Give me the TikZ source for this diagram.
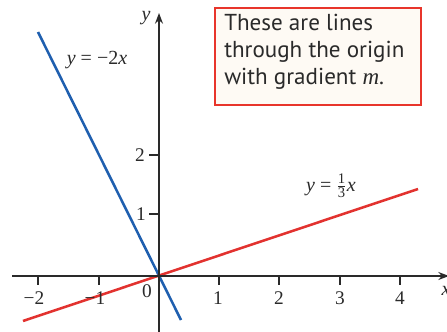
\documentclass[tikz,border=0pt]{standalone}
\usepackage{fontspec}
\setmainfont{Liberation Serif}
\newfontfamily\boxfont{PT Sans}
\usetikzlibrary{arrows.meta}
\definecolor{lineblue}{HTML}{1F5FAF}
\definecolor{linered}{HTML}{E2322F}
\definecolor{boxred}{HTML}{E8352B}
\definecolor{boxfill}{HTML}{FEFAF4}
\definecolor{axisgray}{HTML}{2A2A2A}
\tikzset{
  axis/.style={draw=axisgray, line width=1.1pt, -{Stealth[length=8pt,width=6pt]}},
  tick/.style={draw=axisgray, line width=0.9pt},
  ticklabel/.style={font=\fontsize{14.5}{16}\selectfont, text=axisgray, inner sep=0pt},
  eqlabel/.style={font=\fontsize{15}{17}\selectfont, text=axisgray, inner sep=0pt},
  graphline/.style={line width=1.9pt},
  notebox/.style={draw=boxred, fill=boxfill, line width=1.1pt, inner sep=0pt,
    minimum width=154.5pt, minimum height=73pt},
}
\newcommand{\smallfig}[1]{\mbox{\fontsize{11}{11}\selectfont #1}}
\begin{document}
\begin{tikzpicture}[x=0.75pt,y=-0.75pt]
\useasboundingbox (0,0) rectangle (447,332);
\clip (0,0) rectangle (447,332);
% origin at (159,276); unit 60.3 px horizontally, 61 px vertically
\coordinate (O) at (159,276);
\coordinate (xs) at (12,276);
\coordinate (xe) at (449,276);
\coordinate (ys) at (159,334);
\coordinate (ye) at (159,13);
% lines
\coordinate (b1) at (38,32);
\coordinate (b2) at (181,320);
\coordinate (r1) at (23,321);
\coordinate (r2) at (418,189);
\draw[graphline, lineblue] (b1) -- (b2);
\draw[graphline, linered] (r1) -- (r2);
% axes
\draw[axis] (xs) -- (xe);
\draw[axis] (ys) -- (ye);
% x ticks
\foreach \i/\px in {-2/38,-1/99,1/219,2/279,3/340,4/400}{
  \coordinate (xt\i) at (\px,276);
  \draw[tick] (xt\i) -- ++(0,9);
}
\node[ticklabel] (lm2) at (34,298) {−2};
\node[ticklabel] (lm1) at (95,298) {−1};
\node[ticklabel] (l1) at (218,298) {1};
\node[ticklabel] (l2) at (279,298) {2};
\node[ticklabel] (l3) at (340,298) {3};
\node[ticklabel] (l4) at (400,298) {4};
\node[ticklabel] (l0) at (147,291) {0};
% y ticks
\coordinate (yt1) at (159,214);
\coordinate (yt2) at (159,155);
\draw[tick] (yt1) -- ++(-10,0);
\draw[tick] (yt2) -- ++(-10,0);
\node[ticklabel] (ly1) at (141,214) {1};
\node[ticklabel] (ly2) at (140,155) {2};
% axis labels
\node[eqlabel] (ylab) at (146,18) {\itshape y};
\node[eqlabel] (xlab) at (446,291) {\itshape x};
% equation labels
\node[eqlabel] (eqb) at (97,60) {\itshape y\/\upshape\ = −2\itshape x};
\node[eqlabel, anchor=base] (eqr) at (331,191) {\itshape y\/\upshape\ = $\frac{\smallfig{1}}{\smallfig{3}}$\itshape x};
% note box
\node[notebox] (box) at (318,56.5) {};
\node[anchor=north west, inner sep=0pt, align=left, text=axisgray,
  font=\boxfont\fontsize{17.3}{20.3}\selectfont] (note) at (224,14)
  {These are lines\\through the origin\\with gradient {\rmfamily\itshape m}.};
\end{tikzpicture}
\end{document}
